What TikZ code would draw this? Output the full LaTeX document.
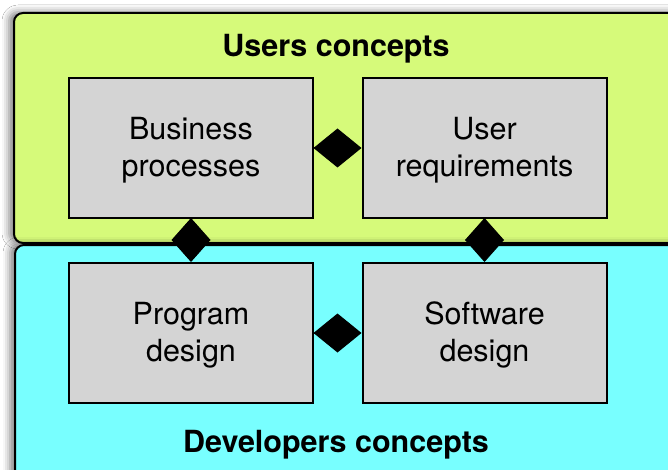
\documentclass[tikz,border=0pt]{standalone}
\usepackage{fontspec}
\setmainfont{TeX Gyre Heros}
\usetikzlibrary{arrows.meta,shadows.blur}
\definecolor{usergreen}{RGB}{214,250,122}
\definecolor{devcyan}{RGB}{120,255,255}
\definecolor{boxgray}{RGB}{212,212,212}
\tikzset{
  area/.style={draw=black, line width=2pt, rounded corners=9pt,
    blur shadow={shadow xshift=-5pt, shadow yshift=1pt, shadow blur radius=7pt, shadow opacity=50}},
  concept/.style={draw=black, line width=2pt, fill=boxgray, minimum width=244pt,
    minimum height=140pt, align=center, inner sep=0pt,
    font=\fontsize{30.5}{37}\selectfont},
  title/.style={anchor=base, font=\fontsize{30.5}{37}\selectfont\bfseries},
  link/.style={draw=black, line width=1pt, -{Diamond[length=48pt,width=39pt,fill=black,color=black]}},
  vlink/.style={draw=black, line width=1pt, -{Diamond[length=44pt,width=39pt,fill=black,color=black]}}
}
\newcommand{\toppad}{\rule{0pt}{27pt}}
\begin{document}
\begin{tikzpicture}[x=1pt,y=-1pt]
\useasboundingbox (0,0) rectangle (668,470);
\clip (0,0) rectangle (668,470);
\fill[white] (0,0) rectangle (668,470);
\path[area, fill=usergreen] (14,13) rectangle (690,243);
\path[area, fill=devcyan] (15,245) rectangle (690,500);
\node[title] (ut) at (336,57) {Users concepts};
\node[title] (dt) at (336,452) {Developers concepts};
\node[concept] (bp) at (191,148) {\toppad Business\\processes};
\node[concept] (ur) at (484.5,148) {\toppad User\\requirements};
\node[concept] (pd) at (191,333) {\toppad Program\\design};
\node[concept] (sd) at (484.5,333) {\toppad Software\\design};
\draw[link] (bp) -- (ur);
\draw[link] (pd) -- (sd);
\draw[vlink] (bp) -- (pd);
\draw[vlink] (ur) -- (sd);
\end{tikzpicture}
\end{document}
